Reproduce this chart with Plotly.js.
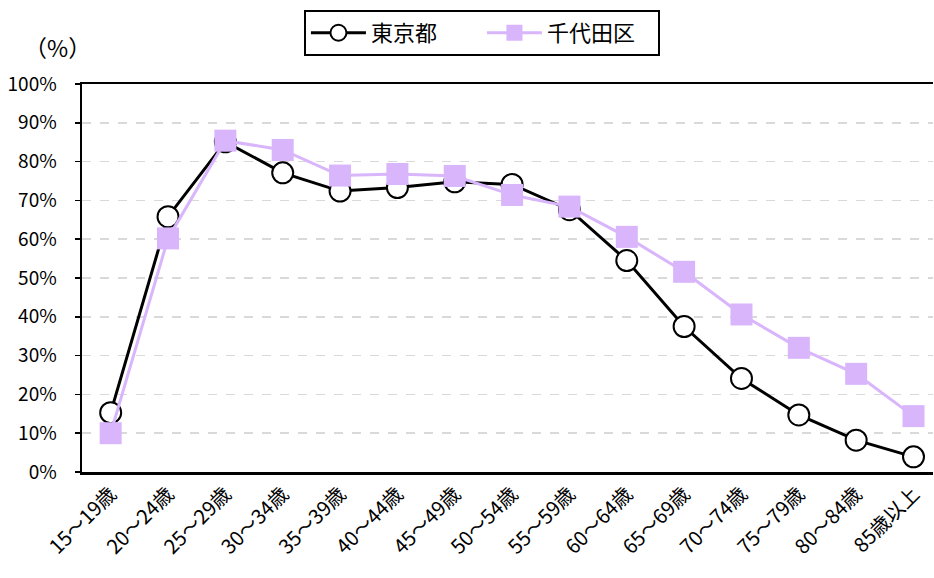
<!DOCTYPE html>
<html><head><meta charset="utf-8">
<script src="https://cdn.plot.ly/plotly-3.0.1.min.js"></script>
<style>body{margin:0;background:#fff}#chart{width:934px;height:578px}</style>
</head><body><div id="chart"></div>
<script>
const categories = ["15～19歳","20～24歳","25～29歳","30～34歳","35～39歳","40～44歳","45～49歳","50～54歳","55～59歳","60～64歳","65～69歳","70～74歳","75～79歳","80～84歳","85歳以上"];
const tokyo = [15.3, 65.8, 85.1, 77.1, 72.4, 73.3, 74.8, 74.1, 67.6, 54.5, 37.5, 24.1, 14.7, 8.2, 3.9];
const chiyoda = [10.0, 60.2, 85.4, 83.0, 76.4, 76.8, 76.3, 71.4, 68.4, 60.6, 51.6, 40.6, 32.0, 25.3, 14.4];
const yTickVals = [0,10,20,30,40,50,60,70,80,90,100];
const yTickText = ["0%","10%","20%","30%","40%","50%","60%","70%","80%","90%","100%"];
const seriesNames = ["東京都","千代田区"];

const FONT = '"Noto Sans CJK JP", "Noto Sans", sans-serif';
const idx = categories.map((_, i) => i);

const traces = [
  {x: idx, y: tokyo, name: seriesNames[0], type: 'scatter', mode: 'lines+markers',
   line: {color: '#000000', width: 3},
   marker: {symbol: 'circle', size: 21, color: '#ffffff', line: {color: '#000000', width: 2}},
   cliponaxis: false},
  {x: idx, y: chiyoda, name: seriesNames[1], type: 'scatter', mode: 'lines+markers',
   line: {color: '#D9B5FC', width: 3},
   marker: {symbol: 'square', size: 22, color: '#D9B5FC', line: {width: 0}},
   cliponaxis: false}
];

const layout = {
  width: 934, height: 578,
  margin: {l: 82, r: 1, t: 84, b: 106, autoexpand: false},
  paper_bgcolor: '#ffffff', plot_bgcolor: '#ffffff',
  font: {family: FONT, size: 19, color: '#000000'},
  showlegend: true,
  legend: {orientation: 'h', xref: 'container', yref: 'container',
           x: 0.516, xanchor: 'center', y: 0.943, yanchor: 'middle',
           bordercolor: '#000000', borderwidth: 2, bgcolor: '#ffffff',
           font: {family: FONT, size: 22, color: '#000000'}, itemwidth: 55,
           entrywidth: 106, entrywidthmode: 'pixels'},
  xaxis: {
    range: [-0.5, 14.34], tickmode: 'array', tickvals: idx, ticktext: categories,
    tickangle: -45, showgrid: false, zeroline: false,
    showline: true, linecolor: '#000000', linewidth: 2.5, mirror: true,
    ticks: '', tickfont: {family: FONT, size: 20, color: '#000000'}, fixedrange: true
  },
  yaxis: {
    range: [0, 100], tickmode: 'array', tickvals: yTickVals, ticktext: yTickText,
    showgrid: true, gridcolor: '#d9d9d9', gridwidth: 1.5, griddash: 'dash',
    zeroline: false, showline: true, linecolor: '#000000', linewidth: 2.5,
    ticks: 'outside', ticklen: 5, tickwidth: 1.5, tickcolor: '#000000',
    tickfont: {family: FONT, size: 19, color: '#000000'}, ticklabelstandoff: 14, fixedrange: true
  },
  annotations: [
    {text: '（%）', xref: 'paper', yref: 'paper', x: -0.07, y: 1.095, xanchor: 'left', yanchor: 'middle',
     showarrow: false, font: {family: FONT, size: 23, color: '#000000'}}
  ]
};

Plotly.newPlot('chart', traces, layout, {displayModeBar: false, staticPlot: true});
</script></body></html>
